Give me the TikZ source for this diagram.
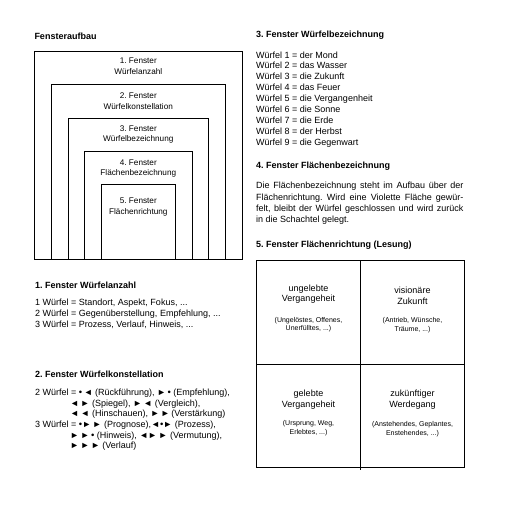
\documentclass[tikz,border=0pt]{standalone}
\usepackage{fontspec}
\setmainfont{Liberation Sans}
\frenchspacing

% kleine Symbole fuer die Wuerfelkonstellation
\newcommand{\pfeilL}{{\fontsize{9}{9}\selectfont ◄}}
\newcommand{\pfeilR}{{\fontsize{9}{9}\selectfont ►}}
\newcommand{\punkt}{{\fontsize{9.5}{9}\selectfont •}}

\tikzset{
  kopf/.style={font=\bfseries\fontsize{9}{11}\selectfont, anchor=base west, inner sep=0pt},
  zeile/.style={font=\fontsize{9}{11}\selectfont, anchor=base west, inner sep=0pt},
  fenster/.style={font=\fontsize{8.2}{10.5}\selectfont, align=center, inner sep=0pt},
  gross/.style={font=\fontsize{9}{10.6}\selectfont, align=center, inner sep=0pt},
  klein/.style={font=\fontsize{7}{8.8}\selectfont, align=center, inner sep=0pt},
  rahmen/.style={line width=0.8pt}
}

\begin{document}
\begin{tikzpicture}[x=1pt, y=-1pt]
    \useasboundingbox (0,0) rectangle (514,507);

    % Fensteraufbau: verschachtelte Rahmen
    \node[kopf] (aufbau) at (34.3,39.3) {Fensteraufbau};
    \draw[rahmen] (34.3,259) |- (242.3,51.7) -- (242.3,259) -- cycle;
    \draw[rahmen] (51.7,259) |- (225,84) -- (225,259);
    \draw[rahmen] (68.7,259) |- (208.3,118.3) -- (208.3,259);
    \draw[rahmen] (84.3,259) |- (192.3,151.7) -- (192.3,259);
    \draw[rahmen] (101,259) |- (175.3,184.3) -- (175.3,259);

    \node[fenster] (f1) at (138.3,66.3) {1. Fenster\\Würfelanzahl};
    \node[fenster] (f2) at (138.3,101) {2. Fenster\\Würfelkonstellation};
    \node[fenster] (f3) at (138.3,134.7) {3. Fenster\\Würfelbezeichnung};
    \node[fenster] (f4) at (138.3,168.5) {4. Fenster\\Flächenbezeichnung};
    \node[fenster] (f5) at (138.3,206.8) {5. Fenster\\Flächenrichtung};

    % 3. Fenster
    \node[kopf] (k3) at (256,37) {3. Fenster Würfelbezeichnung};
    \foreach \i/\w in {1/der Mond, 2/das Wasser, 3/die Zukunft, 4/das Feuer,
                       5/die Vergangenheit, 6/die Sonne, 7/die Erde,
                       8/der Herbst, 9/die Gegenwart}
        \node[zeile] (w\i) at (256,{58+10.96*(\i-1)}) {Würfel \i\ = \w};

    % 4. Fenster
    \node[kopf] (k4) at (256,168) {4. Fenster Flächenbezeichnung};
    \node[font=\fontsize{9}{11.1}\selectfont, text width=207.3pt, align=justify,
          anchor=north west, inner sep=0pt] (absatz) at (256,182.2)
        {Die Flächenbezeichnung steht im Aufbau über der\linebreak
         Flächenrichtung. Wird eine Violette Fläche gewür-\linebreak
         felt, bleibt der Würfel geschlossen und wird zurück\linebreak
         in die Schachtel gelegt.};

    % 5. Fenster
    \node[kopf] (k5) at (256,247) {5. Fenster Flächenrichtung (Lesung)};
    \draw[rahmen] (256.7,260) rectangle (464.3,467.3);
    \draw[rahmen] (360.3,260) -- (360.3,470);
    \draw[rahmen] (256.7,364) -- (464.3,364);

    \node[gross] (ungelebt) at (308.5,294.2) {ungelebte\\Vergangeheit};
    \node[klein] (ungelebtk) at (308.5,324.7) {(Ungelöstes, Offenes,\\Unerfülltes, ...)};
    \node[gross] (vision) at (412.5,295.5) {visionäre\\Zukunft};
    \node[klein] (visionk) at (412.5,324.8) {(Antrieb, Wünsche,\\Träume, ...)};
    \node[gross] (gelebt) at (308.5,399.5) {gelebte\\Vergangeheit};
    \node[klein] (gelebtk) at (308.5,428.3) {(Ursprung, Weg,\\Erlebtes, ...)};
    \node[gross] (zukunft) at (412.5,399.5) {zukünftiger\\Werdegang};
    \node[klein] (zukunftk) at (412.5,428.8) {(Anstehendes, Geplantes,\\Enstehendes, ...)};

    % 1. Fenster
    \node[kopf] (k1) at (35,288) {1. Fenster Würfelanzahl};
    \node[zeile] (a1) at (35,305.7) {1 Würfel = Standort, Aspekt, Fokus, ...};
    \node[zeile] (a2) at (35,316.3) {2 Würfel = Gegenüberstellung, Empfehlung, ...};
    \node[zeile] (a3) at (35,327) {3 Würfel = Prozess, Verlauf, Hinweis, ...};

    % 2. Fenster
    \node[kopf] (k2) at (35,377.3) {2. Fenster Würfelkonstellation};
    \node[zeile] (z1) at (35,395.3) {2 Würfel = \punkt\,\pfeilL\ (Rückführung), \pfeilR\,\punkt\ (Empfehlung),};
    \node[zeile] (z2) at (70,406) {\pfeilL\,\pfeilR\ (Spiegel), \pfeilR\,\pfeilL\ (Vergleich),};
    \node[zeile] (z3) at (70,416.7) {\pfeilL\,\pfeilL\ (Hinschauen), \pfeilR\,\pfeilR\,(Verstärkung)};
    \node[zeile] (z4) at (35,427.4) {3 Würfel = \punkt\pfeilR\,\pfeilR\ (Prognose),\pfeilL\punkt\pfeilR\ (Prozess),};
    \node[zeile] (z5) at (70,438.1) {\pfeilR\,\pfeilR\,\punkt\ (Hinweis), \pfeilL\pfeilR\,\pfeilR\ (Vermutung),};
    \node[zeile] (z6) at (70,448.8) {\pfeilR\,\pfeilR\,\pfeilR\ (Verlauf)};
\end{tikzpicture}
\end{document}
